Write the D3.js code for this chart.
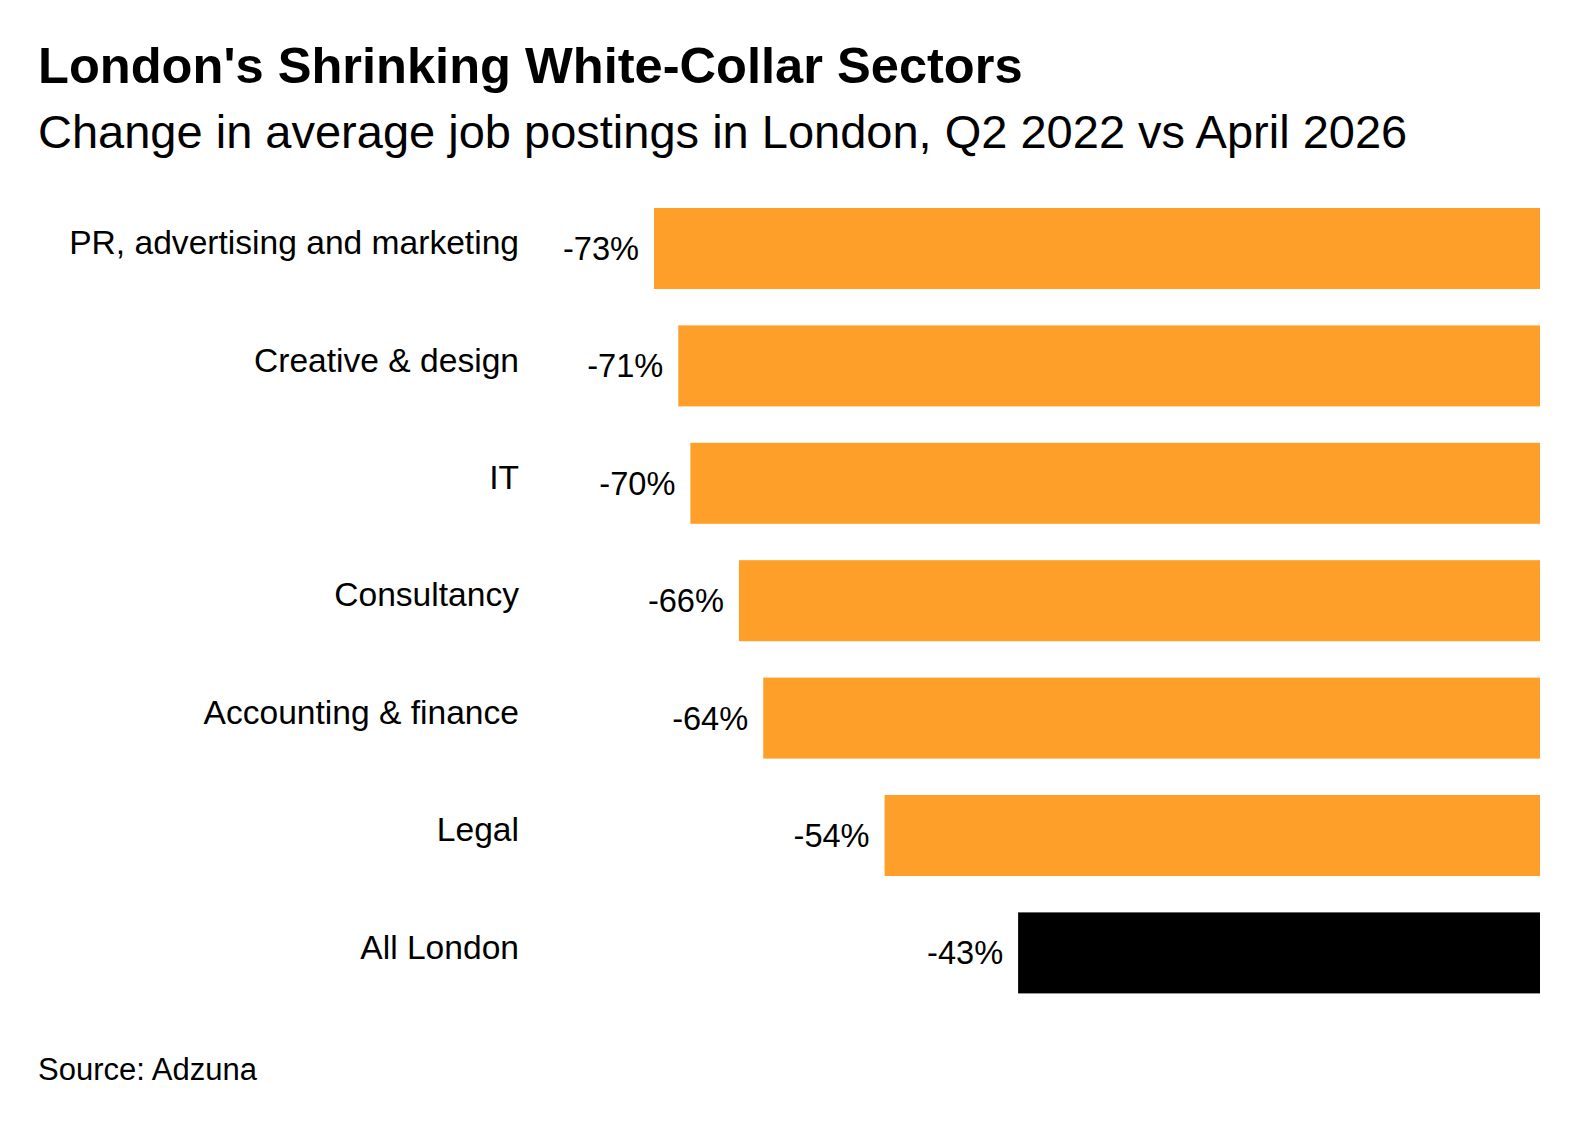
<!DOCTYPE html>
<html>
<head>
<meta charset="utf-8">
<script src="https://cdn.jsdelivr.net/npm/d3@7"></script>
<style>
  body { margin: 0; background: #fff; }
  svg text { font-family: "Liberation Sans", Arial, sans-serif; fill: #000; }
</style>
</head>
<body>
<svg width="1582" height="1140"></svg>
<script>
const categories = ['PR, advertising and marketing', 'Creative & design', 'IT', 'Consultancy',
  'Accounting & finance', 'Legal', 'All London'];
const changes = [-73, -71, -70, -66, -64, -54, -43];
const highlight = ['All London'];

const svg = d3.select('svg');
const width = +svg.attr('width');
const height = +svg.attr('height');
const margin = {top: 208, right: 42, bottom: 110, left: 38};
const plotLeft = 654;
const step = 117.4;
const pad = 0.31;

const data = categories.map((c, i) => ({cat: c, v: changes[i]}));

// titles
svg.append('text')
  .attr('x', margin.left).attr('y', 83)
  .style('font-weight', 'bold').style('font-size', '50.6px')
  .text("London's Shrinking White-Collar Sectors");
svg.append('text')
  .attr('x', margin.left).attr('y', 148)
  .style('font-size', '47px')
  .text('Change in average job postings in London, Q2 2022 vs April 2026');

// bars grow leftwards from zero at the right edge
const x = d3.scaleLinear()
  .domain([d3.min(changes), 0])
  .range([plotLeft, width - margin.right]);

const y = d3.scaleBand()
  .domain(categories)
  .range([margin.top, margin.top + step * (categories.length - pad)])
  .paddingInner(pad)
  .paddingOuter(0);

const row = svg.selectAll('g.row')
  .data(data)
  .enter().append('g')
  .attr('class', 'row');

row.append('rect')
  .attr('x', d => x(d.v))
  .attr('y', d => y(d.cat))
  .attr('width', d => x(0) - x(d.v))
  .attr('height', y.bandwidth())
  .attr('fill', d => highlight.includes(d.cat) ? '#000000' : '#fd9f29');

row.append('text')
  .attr('x', d => x(d.v) - 15)
  .attr('y', d => y(d.cat) + y.bandwidth() / 2)
  .attr('dy', '0.35em')
  .attr('text-anchor', 'end')
  .style('font-size', '32.6px')
  .text(d => d.v + '%');

row.append('text')
  .attr('x', 519)
  .attr('y', d => y(d.cat) + y.bandwidth() / 2 - 6)
  .attr('dy', '0.35em')
  .attr('text-anchor', 'end')
  .style('font-size', '33.6px')
  .text(d => d.cat);

svg.append('text')
  .attr('x', margin.left).attr('y', 1080)
  .style('font-size', '31px')
  .text('Source: Adzuna');
</script>
</body>
</html>
